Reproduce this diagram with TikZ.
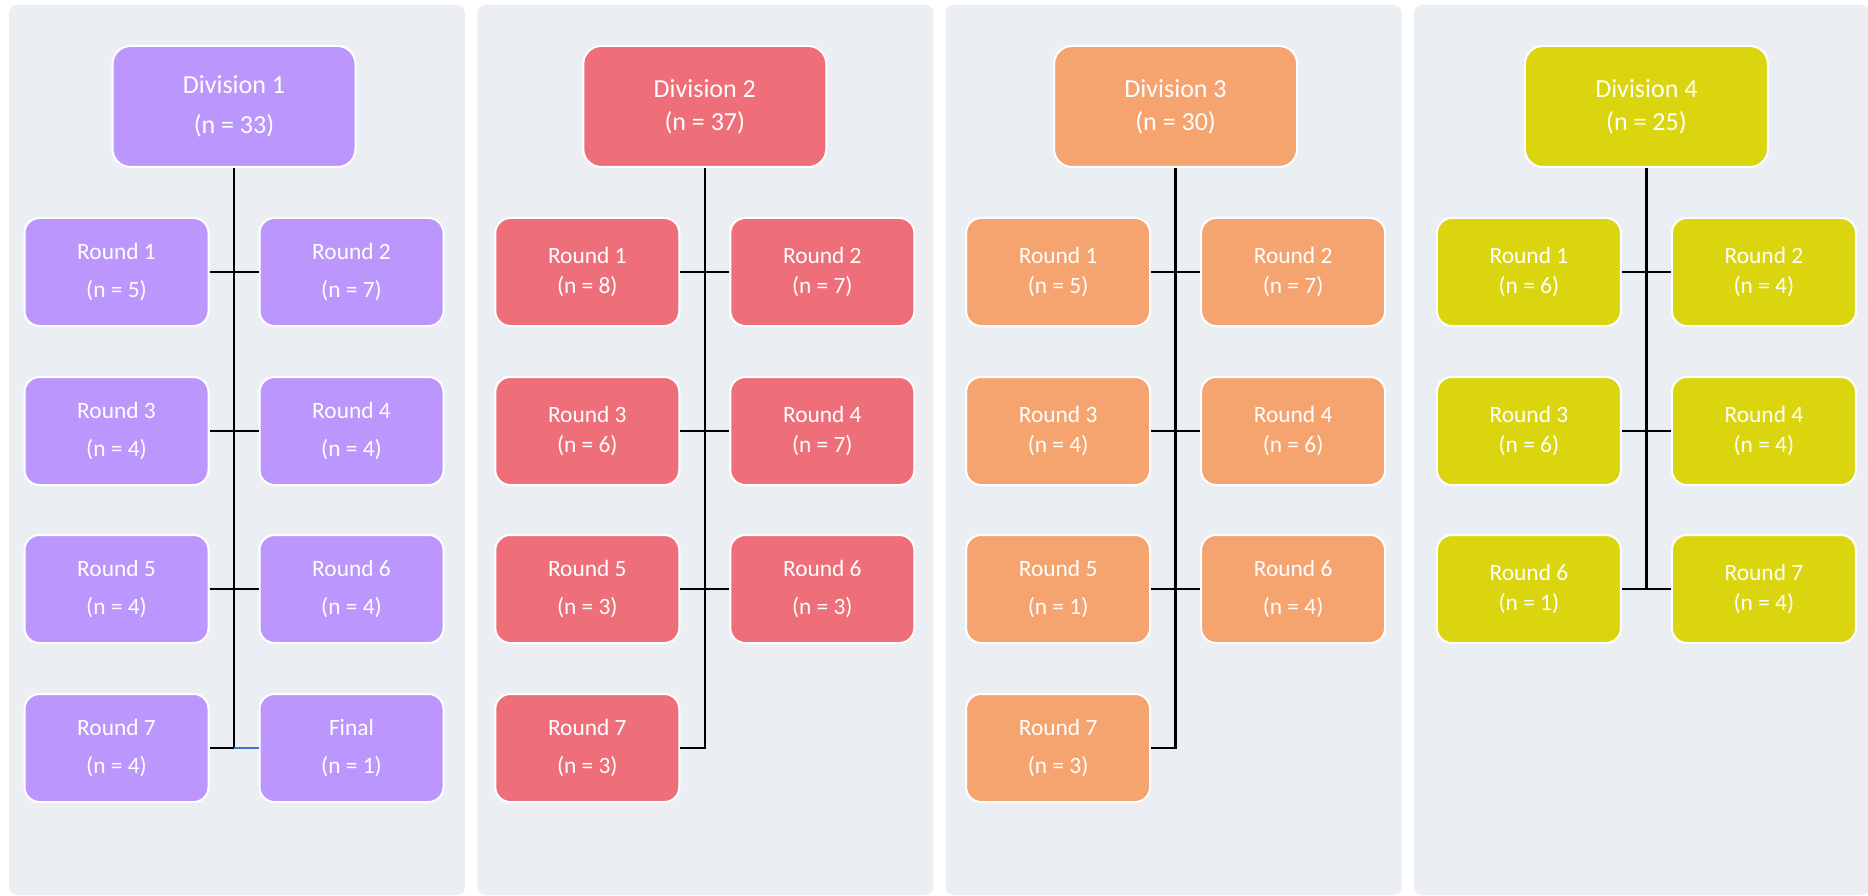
\documentclass[tikz,border=0pt]{standalone}
\usepackage{fontspec}
\setmainfont{Carlito}
\definecolor{panelbg}{RGB}{235,238,243}
\definecolor{cpurple}{RGB}{187,150,252}
\definecolor{cred}{RGB}{238,111,122}
\definecolor{corange}{RGB}{245,164,111}
\definecolor{cyellow}{RGB}{218,213,14}
\definecolor{cblue}{RGB}{68,114,196}
\tikzset{
  box/.style={draw=white, line width=2pt, rounded corners=15pt, text=white, align=center,
    inner sep=0pt, minimum width=184pt, minimum height=108pt},
  divbox/.style={box, minimum width=243pt, minimum height=121pt, rounded corners=18pt},
  tight/.style={font=\fontsize{23.4}{30}\selectfont},
  wide/.style={font=\fontsize{23.4}{37.5}\selectfont},
  divtight/.style={font=\fontsize{26}{33}\selectfont},
  divwide/.style={font=\fontsize{26}{40}\selectfont},
  pa/.style={fill=cpurple}, pb/.style={fill=cred}, pc/.style={fill=corange}, pd/.style={fill=cyellow},
  conn/.style={line width=2.6pt, black},
  panel/.style={fill=panelbg, rounded corners=8pt}
}
\begin{document}
\begin{tikzpicture}[x=1pt,y=-1pt]
\useasboundingbox (0,0) rectangle (1868,896);
\fill[white] (0,0) rectangle (1868,896);
\foreach \i in {0,1,2,3} \fill[panel] (9+\i*468.3,5) rectangle (465+\i*468.3,895);

% Panel 1
\node[divbox,pa,divwide] (d1) at (234,106.5) {Division 1\\(n = 33)};
\node[box,pa,wide] (a1) at (116.5,272) {Round 1\\(n = 5)};
\node[box,pa,wide] (a2) at (351.5,272) {Round 2\\(n = 7)};
\node[box,pa,wide] (a3) at (116.5,431) {Round 3\\(n = 4)};
\node[box,pa,wide] (a4) at (351.5,431) {Round 4\\(n = 4)};
\node[box,pa,wide] (a5) at (116.5,589) {Round 5\\(n = 4)};
\node[box,pa,wide] (a6) at (351.5,589) {Round 6\\(n = 4)};
\node[box,pa,wide] (a7) at (116.5,748) {Round 7\\(n = 4)};
\node[box,pa,wide] (a8) at (351.5,748) {Final\\(n = 1)};
\draw[conn] (d1.south) -- (d1.south |- a7.east) -- (a7.east);
\draw[conn] (a1.east) -- (a2.west);
\draw[conn] (a3.east) -- (a4.west);
\draw[conn] (a5.east) -- (a6.west);
\draw[line width=2pt, cblue] (d1.south |- a8.west) -- (a8.west);

% Panel 2
\node[divbox,pb,divtight] (d2) at (704.8,106.5) {Division 2\\(n = 37)};
\node[box,pb,tight] (b1) at (587.3,272) {Round 1\\(n = 8)};
\node[box,pb,tight] (b2) at (822.3,272) {Round 2\\(n = 7)};
\node[box,pb,tight] (b3) at (587.3,431) {Round 3\\(n = 6)};
\node[box,pb,tight] (b4) at (822.3,431) {Round 4\\(n = 7)};
\node[box,pb,wide] (b5) at (587.3,589) {Round 5\\(n = 3)};
\node[box,pb,wide] (b6) at (822.3,589) {Round 6\\(n = 3)};
\node[box,pb,wide] (b7) at (587.3,748) {Round 7\\(n = 3)};
\draw[conn] (d2.south) -- (d2.south |- b7.east) -- (b7.east);
\draw[conn] (b1.east) -- (b2.west);
\draw[conn] (b3.east) -- (b4.west);
\draw[conn] (b5.east) -- (b6.west);

% Panel 3
\node[divbox,pc,divtight] (d3) at (1175.6,106.5) {Division 3\\(n = 30)};
\node[box,pc,tight] (c1) at (1058.1,272) {Round 1\\(n = 5)};
\node[box,pc,tight] (c2) at (1293.1,272) {Round 2\\(n = 7)};
\node[box,pc,tight] (c3) at (1058.1,431) {Round 3\\(n = 4)};
\node[box,pc,tight] (c4) at (1293.1,431) {Round 4\\(n = 6)};
\node[box,pc,wide] (c5) at (1058.1,589) {Round 5\\(n = 1)};
\node[box,pc,wide] (c6) at (1293.1,589) {Round 6\\(n = 4)};
\node[box,pc,wide] (c7) at (1058.1,748) {Round 7\\(n = 3)};
\draw[conn] (d3.south) -- (d3.south |- c7.east) -- (c7.east);
\draw[conn] (c1.east) -- (c2.west);
\draw[conn] (c3.east) -- (c4.west);
\draw[conn] (c5.east) -- (c6.west);

% Panel 4
\node[divbox,pd,divtight] (d4) at (1646.4,106.5) {Division 4\\(n = 25)};
\node[box,pd,tight] (e1) at (1528.9,272) {Round 1\\(n = 6)};
\node[box,pd,tight] (e2) at (1763.9,272) {Round 2\\(n = 4)};
\node[box,pd,tight] (e3) at (1528.9,431) {Round 3\\(n = 6)};
\node[box,pd,tight] (e4) at (1763.9,431) {Round 4\\(n = 4)};
\node[box,pd,tight] (e5) at (1528.9,589) {Round 6\\(n = 1)};
\node[box,pd,tight] (e6) at (1763.9,589) {Round 7\\(n = 4)};
\draw[conn] (d4.south) -- (d4.south |- e5.east);
\draw[conn] (e1.east) -- (e2.west);
\draw[conn] (e3.east) -- (e4.west);
\draw[conn] (e5.east) -- (e6.west);
\end{tikzpicture}
\end{document}
